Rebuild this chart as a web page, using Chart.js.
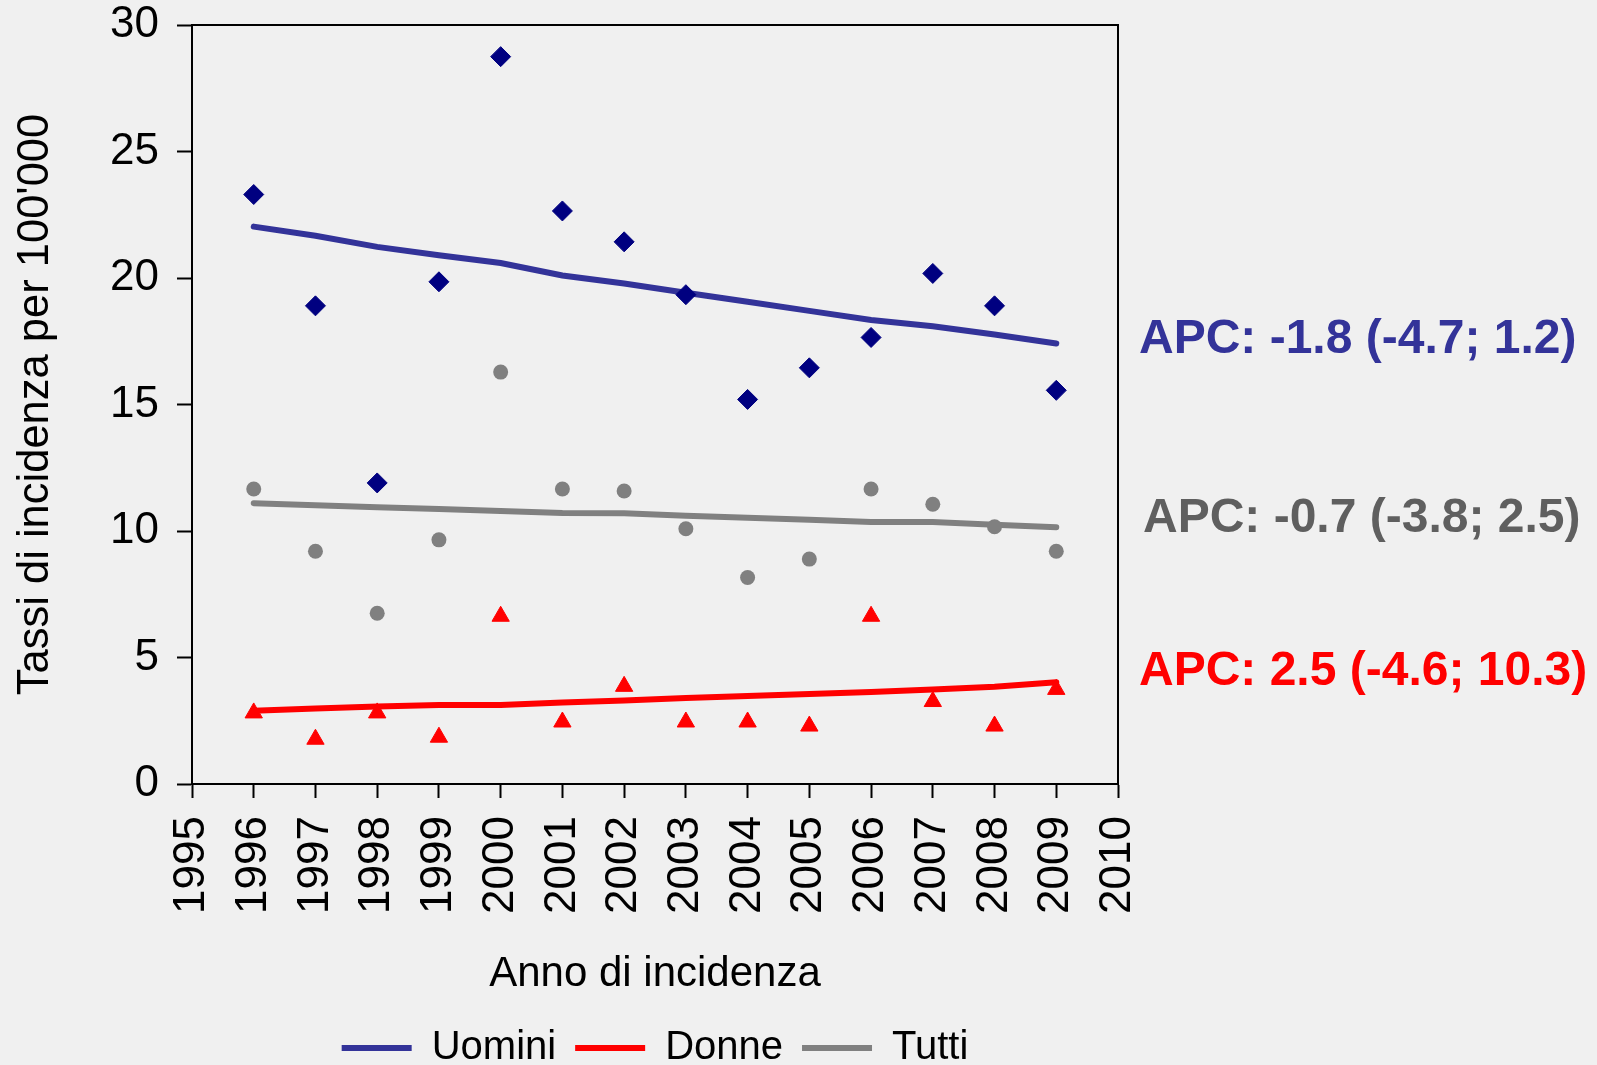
<!DOCTYPE html>
<html>
<head>
<meta charset="utf-8">
<script src="https://cdn.jsdelivr.net/npm/chart.js@4/dist/chart.umd.min.js"></script>
<style>
  html, body { margin: 0; padding: 0; background: #f0f0f0; overflow: hidden; }
  #wrap { width: 1597px; height: 1078px; }
</style>
</head>
<body>
<div id="wrap"><canvas id="incChart" width="1597" height="1078"></canvas></div>
<script>
// Anni di incidenza
const years = [1996, 1997, 1998, 1999, 2000, 2001, 2002, 2003, 2004, 2005, 2006, 2007, 2008, 2009];

// Tassi osservati (per 100'000)
const uominiRates = [23.3, 18.9, 11.9, 19.85, 28.75, 22.65, 21.43, 19.34, 15.2, 16.45, 17.65, 20.18, 18.9, 15.56];
const donneRates  = [2.81, 1.77, 2.81, 1.85, 6.63, 2.45, 3.86, 2.45, 2.45, 2.29, 6.63, 3.26, 2.29, 3.74];
const tuttiRates  = [11.66, 9.2, 6.75, 9.65, 16.28, 11.66, 11.58, 10.09, 8.16, 8.89, 11.66, 11.06, 10.17, 9.2];

// Trend (modello APC)
const uominiTrend = [22.03, 21.67, 21.23, 20.9, 20.59, 20.1, 19.78, 19.42, 19.06, 18.7, 18.34, 18.09, 17.77, 17.41];
const donneTrend  = [2.9, 2.98, 3.06, 3.12, 3.12, 3.22, 3.3, 3.4, 3.48, 3.56, 3.64, 3.74, 3.84, 4.02];
const tuttiTrend  = [11.1, 11.02, 10.94, 10.87, 10.79, 10.71, 10.7, 10.6, 10.52, 10.44, 10.36, 10.36, 10.25, 10.15];

const seriesNames = ['Uomini', 'Donne', 'Tutti'];
const apcLabels = ['APC: -1.8 (-4.7; 1.2)', 'APC: 2.5 (-4.6; 10.3)', 'APC: -0.7 (-3.8; 2.5)'];

// Assi
const xMin = 1995, xMax = 2010;
const yMin = 0, yMax = 30, yStep = 5;

const FONT = "'Liberation Sans', Arial, sans-serif";

const toPoints = vals => vals.map((v, i) => ({ x: years[i], y: v }));

// APC text next to the plot
const apcPlugin = {
    id: 'apcText',
    afterDraw(chart, args, opts) {
        const { ctx, chartArea, scales } = chart;
        ctx.save();
        ctx.font = 'bold 48px ' + FONT;
        ctx.textAlign = 'left';
        ctx.textBaseline = 'middle';
        opts.items.forEach(it => {
            ctx.fillStyle = it.color;
            ctx.fillText(it.text, chartArea.right + it.dx, scales.y.getPixelForValue(it.at));
        });
        ctx.restore();
    }
};

// Plot frame
const framePlugin = {
    id: 'frame',
    beforeDatasetsDraw(chart) {
        const { ctx, chartArea } = chart;
        ctx.save();
        ctx.strokeStyle = '#000';
        ctx.lineWidth = 2;
        ctx.strokeRect(chartArea.left, chartArea.top, chartArea.width, chartArea.height);
        ctx.restore();
    }
};

const ctx = document.getElementById('incChart').getContext('2d');

new Chart(ctx, {
    type: 'line',
    data: {
        datasets: [
            {
                label: 'Uomini (dati)',
                data: toPoints(uominiRates),
                showLine: false,
                pointStyle: 'rectRot',
                pointRadius: 10,
                pointBackgroundColor: '#000080',
                pointBorderColor: '#000080',
                pointBorderWidth: 1
            },
            {
                label: 'Donne (dati)',
                data: toPoints(donneRates),
                showLine: false,
                pointStyle: 'triangle',
                pointRadius: 10,
                pointBackgroundColor: '#ff0000',
                pointBorderColor: '#ff0000',
                pointBorderWidth: 1
            },
            {
                label: 'Tutti (dati)',
                data: toPoints(tuttiRates),
                showLine: false,
                pointStyle: 'circle',
                pointRadius: 7.5,
                pointBackgroundColor: '#808080',
                pointBorderColor: '#808080',
                pointBorderWidth: 0
            },
            {
                label: seriesNames[0],
                data: toPoints(uominiTrend),
                borderColor: '#333399',
                backgroundColor: '#333399',
                borderWidth: 6,
                borderCapStyle: 'round',
                pointRadius: 0,
                pointStyle: 'line',
                tension: 0
            },
            {
                label: seriesNames[1],
                data: toPoints(donneTrend),
                borderColor: '#ff0000',
                backgroundColor: '#ff0000',
                borderWidth: 6,
                borderCapStyle: 'round',
                pointRadius: 0,
                pointStyle: 'line',
                tension: 0
            },
            {
                label: seriesNames[2],
                data: toPoints(tuttiTrend),
                borderColor: '#808080',
                backgroundColor: '#808080',
                borderWidth: 6,
                borderCapStyle: 'round',
                pointRadius: 0,
                pointStyle: 'line',
                tension: 0
            }
        ]
    },
    options: {
        responsive: false,
        animation: false,
        events: [],
        layout: {
            padding: { left: 0, right: 479, top: 0, bottom: 0 }
        },
        plugins: {
            tooltip: { enabled: false },
            legend: {
                position: 'bottom',
                fullSize: false,
                labels: {
                    filter: item => item.datasetIndex >= 3,
                    usePointStyle: true,
                    pointStyleWidth: 70,
                    boxHeight: 6,
                    padding: 19,
                    color: '#000',
                    font: { family: FONT, size: 40 }
                }
            },
            apcText: {
                items: [
                    { text: apcLabels[0], color: '#333399', at: 17.55, dx: 21 },
                    { text: apcLabels[2], color: '#5f5f5f', at: 10.47, dx: 25 },
                    { text: apcLabels[1], color: '#ff0000', at: 4.43, dx: 21 }
                ]
            }
        },
        scales: {
            x: {
                type: 'linear',
                min: xMin,
                max: xMax,
                afterFit: s => { s.height = 225; },
                border: { display: true, color: '#000', width: 2 },
                grid: {
                    drawOnChartArea: false,
                    drawTicks: true,
                    tickLength: 14,
                    tickWidth: 2,
                    tickColor: '#000'
                },
                ticks: {
                    stepSize: 1,
                    minRotation: 90,
                    maxRotation: 90,
                    padding: 18,
                    color: '#000',
                    font: { family: FONT, size: 44 },
                    callback: v => String(v)
                },
                title: {
                    display: true,
                    text: 'Anno di incidenza',
                    color: '#000',
                    font: { family: FONT, size: 42 },
                    padding: { top: 0, bottom: 9 }
                }
            },
            y: {
                min: yMin,
                max: yMax,
                afterFit: s => {
                    s.width = 192;
                    s.paddingTop = 25;
                    s.paddingBottom = 0;
                },
                border: { display: true, color: '#000', width: 2 },
                grid: {
                    drawOnChartArea: false,
                    drawTicks: true,
                    tickLength: 15,
                    tickWidth: 2,
                    tickColor: '#000'
                },
                ticks: {
                    stepSize: yStep,
                    padding: 18,
                    color: '#000',
                    font: { family: FONT, size: 44 }
                },
                title: {
                    display: true,
                    text: "Tassi di incidenza per 100'000",
                    color: '#000',
                    font: { family: FONT, size: 43.5 },
                    padding: { top: 10, bottom: 0 }
                }
            }
        }
    },
    plugins: [apcPlugin, framePlugin]
});
</script>
</body>
</html>
